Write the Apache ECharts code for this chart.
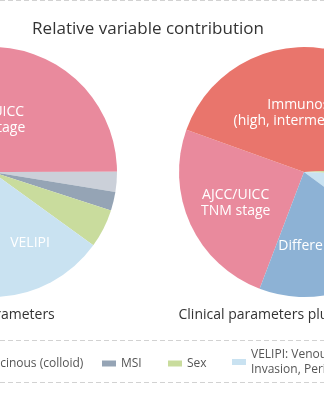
<!DOCTYPE html>
<html>
<head>
<meta charset="utf-8">
<script src="https://cdn.jsdelivr.net/npm/echarts@6/dist/echarts.min.js"></script>
<style>
  html, body { margin: 0; padding: 0; background: #fff; }
  #chart { width: 324px; height: 400px; }
</style>
</head>
<body>
<div id="chart"></div>
<script>
// Relative contribution (%) of each variable, listed clockwise.
const clinicalNames  = ['AJCC/UICC TNM stage', 'Mucinous (colloid)', 'MSI', 'Sex', 'VELIPI', 'Differentiation'];
const clinicalValues = [50.8, 2.6, 2.4, 5.0, 14.4, 24.8];

const immunoNames  = ['AJCC/UICC TNM stage', 'Immunoscore', 'Sex', 'VELIPI', 'Differentiation'];
const immunoValues = [24.7, 43.6, 1.4, 9.6, 20.6];

// Text written inside the slices
const sliceText = {
  'AJCC/UICC TNM stage': 'AJCC/UICC\nTNM stage',
  'Immunoscore': 'Immunoscore\n(high, intermediate, low)',
  'VELIPI': 'VELIPI',
  'Differentiation': 'Differentiation'
};

// Legend entries and their wording
const legendNames = ['Mucinous (colloid)', 'MSI', 'Sex', 'VELIPI'];
const legendText = {
  'Mucinous (colloid)': 'Mucinous (colloid)',
  'MSI': 'MSI',
  'Sex': 'Sex',
  'VELIPI': 'VELIPI: Venous Emboli, Lymphatic\nInvasion, Perineural Invasion'
};

const titleText = 'Relative variable contribution';
const panelTitles = ['Clinical parameters', 'Clinical parameters plus Immunoscore'];

const colors = {
  'AJCC/UICC TNM stage': '#e98a9d',
  'Immunoscore': '#e9756c',
  'Mucinous (colloid)': '#cbd0d9',
  'MSI': '#95a4b5',
  'Sex': '#c9dc9d',
  'VELIPI': '#c9e2f1',
  'Differentiation': '#8db2d5'
};

const FONT = '"Open Sans", "Noto Sans", sans-serif';
const R = 125;
const pies = [
  { names: clinicalNames, values: clinicalValues, cx: -8, cy: 172, start: 183 },
  { names: immunoNames, values: immunoValues, cx: 304, cy: 172, start: 249.2 }
];

// Place each slice label at the centroid of its sector.
function centroidLayout(values, cx, cy, r, start) {
  const total = values.reduce((a, b) => a + b, 0);
  return function (p) {
    let acc = 0;
    for (let i = 0; i < p.dataIndex; i++) acc += values[i];
    const sweep = values[p.dataIndex] / total * 360;
    const mid = (start - acc / total * 360 - sweep / 2) * Math.PI / 180;
    const half = sweep / 2 * Math.PI / 180;
    const d = 2 * r * Math.sin(half) / (3 * half);
    return {
      x: cx + d * Math.cos(mid),
      y: cy - d * Math.sin(mid),
      align: 'center',
      verticalAlign: 'middle'
    };
  };
}

const series = pies.map(p => ({
  type: 'pie',
  center: [p.cx, p.cy],
  radius: R,
  startAngle: p.start,
  clockwise: true,
  animation: false,
  emphasis: { disabled: true },
  itemStyle: { borderWidth: 0 },
  labelLine: { show: false },
  label: {
    position: 'inside',
    color: '#fff',
    fontFamily: FONT,
    fontSize: 14,
    lineHeight: 16,
    formatter: (d) => sliceText[d.name] || ''
  },
  labelLayout: centroidLayout(p.values, p.cx, p.cy, R, p.start),
  data: p.names.map((n, i) => ({
    name: n,
    value: p.values[i],
    itemStyle: { color: colors[n] },
    label: { show: !!sliceText[n] && p.values[i] >= 9 }
  }))
}));

// One legend block per entry so each sits in its own column
const legendLeft = [-37, 102, 168, 232];
const legends = legendNames.map((n, i) => {
  const multi = legendText[n].indexOf('\n') >= 0;
  return {
    data: [n],
    left: legendLeft[i],
    top: multi ? 339.5 : 356,
    padding: 0,
    itemWidth: 14,
    itemHeight: 6,
    icon: 'rect',
    selectedMode: false,
    formatter: (name) => legendText[name],
    textStyle: {
      fontFamily: FONT,
      fontSize: 12,
      lineHeight: 15,
      color: '#555',
      padding: multi ? [15, 0, 0, 0] : 0
    }
  };
});

function dashed(y) {
  return {
    type: 'line',
    shape: { x1: 0, y1: y, x2: 324, y2: y },
    style: { stroke: '#d2d2d2', lineWidth: 1, lineDash: [5, 3] },
    silent: true
  };
}

const chart = echarts.init(document.getElementById('chart'), null, { renderer: 'canvas' });
chart.setOption({
  backgroundColor: '#fff',
  animation: false,
  legend: legends,
  series: series,
  graphic: [
    dashed(0.5),
    dashed(340.5),
    dashed(382.5),
    {
      type: 'text', x: 148, y: 29,
      style: { text: titleText, fontFamily: FONT, fontSize: 17, fill: '#333', align: 'center', verticalAlign: 'middle' }
    },
    {
      type: 'text', x: pies[0].cx, y: 315,
      style: { text: panelTitles[0], fontFamily: FONT, fontSize: 14, fill: '#333', align: 'center', verticalAlign: 'middle' }
    },
    {
      type: 'text', x: pies[1].cx, y: 315,
      style: { text: panelTitles[1], fontFamily: FONT, fontSize: 14, fill: '#333', align: 'center', verticalAlign: 'middle' }
    }
  ]
});
</script>
</body>
</html>
